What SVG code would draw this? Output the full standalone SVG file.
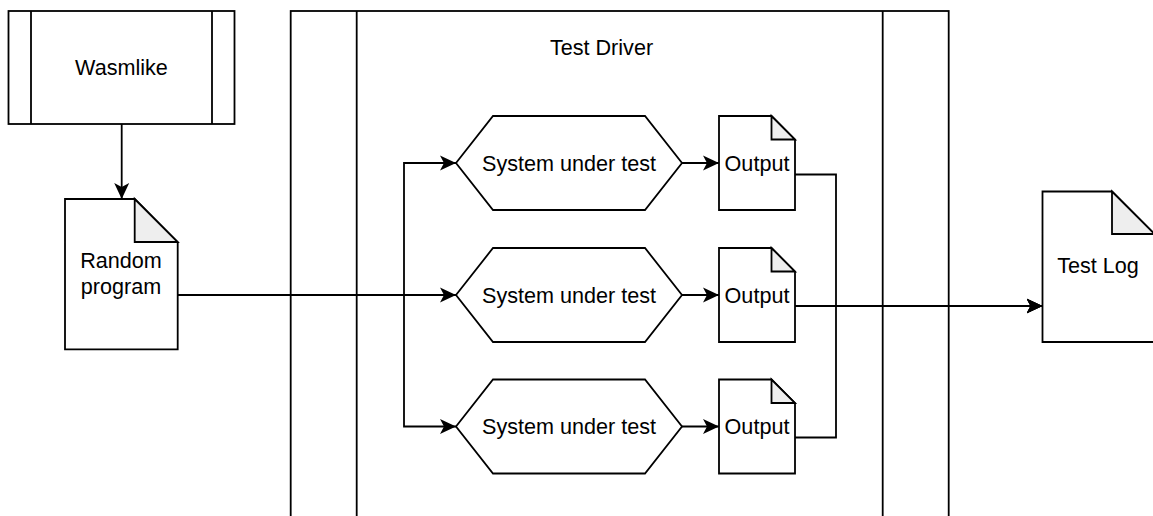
<svg xmlns="http://www.w3.org/2000/svg" width="1153" height="516" viewBox="0 0 1153 516">
  <style>
    .shape { fill: #ffffff; stroke: #000000; stroke-width: 1.8; }
    .fold { fill: #eeeeee; stroke: #000000; stroke-width: 1.8; stroke-linejoin: miter; }
    .edge { fill: none; stroke: #000000; stroke-width: 1.8; }
    .label { font-family: "Liberation Sans", Arial, Helvetica, sans-serif; font-size: 21.6px; fill: #000000; text-anchor: middle; }
  </style>
  <defs>
    <marker id="arrow" viewBox="0 0 16 16" refX="16" refY="8" markerWidth="16" markerHeight="16" markerUnits="userSpaceOnUse" orient="auto">
      <path d="M0,0.5 L16,8 L0,15.5 L4,8 Z" fill="#000000"/>
    </marker>
  </defs>

  <rect width="1153" height="516" fill="#ffffff"/>

  <!-- Test Driver container (runs off the bottom edge) -->
  <g id="test-driver">
    <rect class="shape" x="290.7" y="11" width="658" height="540"/>
    <line class="edge" x1="356.7" y1="11" x2="356.7" y2="551"/>
    <line class="edge" x1="882.7" y1="11" x2="882.7" y2="551"/>
    <text class="label" x="601.5" y="55">Test Driver</text>
  </g>

  <!-- Wasmlike generator -->
  <g id="wasmlike">
    <rect class="shape" x="8.5" y="11" width="226" height="113"/>
    <line class="edge" x1="31" y1="11" x2="31" y2="124"/>
    <line class="edge" x1="212" y1="11" x2="212" y2="124"/>
    <text class="label" x="121.5" y="74.5">Wasmlike</text>
  </g>

  <!-- Random program document -->
  <g id="random-program">
    <path class="shape" d="M65,199 H134.7 L177.7,242 V349.3 H65 Z"/>
    <path class="fold" d="M134.7,199 V242 H177.7 Z"/>
    <text class="label" x="121" y="267.7">Random</text>
    <text class="label" x="121" y="293.5">program</text>
  </g>

  <!-- Systems under test -->
  <g id="sut-1">
    <path class="shape" d="M456,163 L493,116 H645 L682,163 L645,210 H493 Z"/>
    <text class="label" x="569" y="170.5">System under test</text>
  </g>
  <g id="sut-2">
    <path class="shape" d="M456,295 L493,248 H645 L682,295 L645,342 H493 Z"/>
    <text class="label" x="569" y="302.5">System under test</text>
  </g>
  <g id="sut-3">
    <path class="shape" d="M456,426.5 L493,379.5 H645 L682,426.5 L645,473.5 H493 Z"/>
    <text class="label" x="569" y="434">System under test</text>
  </g>

  <!-- Outputs -->
  <g id="output-1">
    <path class="shape" d="M719,116 H771.5 L795,139.5 V210 H719 Z"/>
    <path class="fold" d="M771.5,116 V139.5 H795 Z"/>
    <text class="label" x="757" y="170.5">Output</text>
  </g>
  <g id="output-2">
    <path class="shape" d="M719,248 H771.5 L795,271.5 V342 H719 Z"/>
    <path class="fold" d="M771.5,248 V271.5 H795 Z"/>
    <text class="label" x="757" y="302.5">Output</text>
  </g>
  <g id="output-3">
    <path class="shape" d="M719,379.5 H771.5 L795,403 V473.5 H719 Z"/>
    <path class="fold" d="M771.5,379.5 V403 H795 Z"/>
    <text class="label" x="757" y="434">Output</text>
  </g>

  <!-- Test Log document (clipped at the right edge) -->
  <g id="test-log">
    <path class="shape" d="M1042.5,191.5 H1112 L1154.5,234 V342 H1042.5 Z"/>
    <path class="fold" d="M1112,191.5 V234 H1154.5 Z"/>
    <text class="label" x="1098" y="273">Test Log</text>
  </g>

  <!-- Connectors -->
  <g id="connectors">
    <path class="edge" d="M121.7,124 V199" marker-end="url(#arrow)"/>
    <path class="edge" d="M177.7,295 H456" marker-end="url(#arrow)"/>
    <path class="edge" d="M404,295 V163 H456" marker-end="url(#arrow)"/>
    <path class="edge" d="M404,295 V426.5 H456" marker-end="url(#arrow)"/>
    <path class="edge" d="M682,163 H719" marker-end="url(#arrow)"/>
    <path class="edge" d="M682,295 H719" marker-end="url(#arrow)"/>
    <path class="edge" d="M682,426.5 H719" marker-end="url(#arrow)"/>
    <path class="edge" d="M795,174.5 H836 V306 H1042.5" marker-end="url(#arrow)"/>
    <path class="edge" d="M795,437.5 H836 V306 H1042.5" marker-end="url(#arrow)"/>
    <path class="edge" d="M795,306 H1042.5" marker-end="url(#arrow)"/>
  </g>
</svg>
